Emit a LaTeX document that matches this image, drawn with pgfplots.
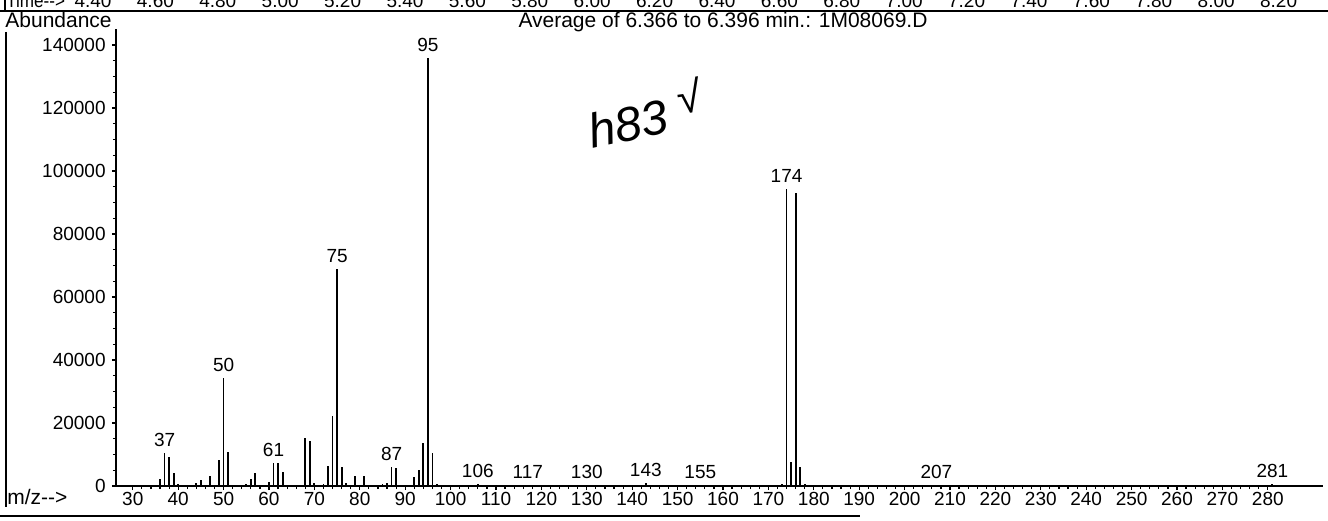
\documentclass[border=0pt]{standalone}
\usepackage{fontspec}
\setmainfont{Liberation Sans}
\usepackage{pgfplots}
\pgfplotsset{compat=1.18}

% scan is 1328x520 px, drawn here at 0.5pt per px
\newcommand{\tickfont}{\fontsize{9.5}{10}\selectfont}
\newcommand{\headfont}{\fontsize{10.5}{11}\selectfont}
\newcommand{\timefont}{\fontsize{9.5}{10}\selectfont}
\tikzset{peak/.style={anchor=south, inner sep=0pt, yshift=3pt, font=\tickfont}}

\begin{document}
\begin{tikzpicture}
	% time row, cut off at the top edge
	\node[anchor=base west, inner sep=0pt, font=\timefont, xscale=0.9] at (3pt,256pt) {Time-{}->};
	\foreach \t [count=\i from 0] in {4.40,4.60,4.80,5.00,5.20,5.40,5.60,5.80,6.00,6.20,6.40,6.60,6.80,7.00,7.20,7.40,7.60,7.80,8.00,8.20}
		\node[anchor=base, inner sep=0pt, font=\timefont] at ({46.5pt+\i*31.2pt},256pt) {\t};
	\draw[line width=1pt] (0pt,254.5pt) -- (664pt,254.5pt);
	\draw[line width=0.9pt] (2.5pt,260pt) -- (2.5pt,255pt);
	\draw[line width=0.9pt] (3pt,244pt) -- (3pt,6.5pt);
	\draw[line width=1pt] (0pt,2pt) -- (430pt,2pt);

	\node[anchor=base west, inner sep=0pt, font=\headfont] at (2.5pt,246pt) {Abundance};
	\node[anchor=base, inner sep=0pt, font=\headfont] at (361.5pt,246pt) {Average of 6.366 to 6.396 min.: 1M08069.D};
	\node[anchor=base west, inner sep=0pt, font=\headfont] at (3.5pt,8pt) {m/z-{}->};

	\begin{axis}[
		at={(58pt,17pt)}, anchor=south west,
		scale only axis,
		width=603.5pt, height=228.35pt,
		xmin=26.3, xmax=292.16,
		ymin=0, ymax=145000,
		axis x line=bottom, axis y line=left,
		axis line style={-, line width=0.9pt},
		tick align=outside,
		major tick length=2pt, minor tick length=1.5pt,
		every tick/.style={black, line width=0.6pt},
		xtick={30,40,...,280},
		minor x tick num=4,
		ytick={0,20000,...,140000},
		minor y tick num=3,
		scaled y ticks=false,
		/pgf/number format/assume math mode=true,
		yticklabel style={/pgf/number format/fixed, /pgf/number format/1000 sep={}, font=\tickfont, inner sep=0pt, xshift=-3pt},
		xticklabel style={font=\tickfont, inner sep=0pt, yshift=-1pt},
		clip=false,
		]
	\addplot[ycomb, black, line width=0.9pt] coordinates {
		(36,2200) (37,10500) (38,9200) (39,4100) (40,500) (42,400) (44,800)
		(45,1900) (47,3200) (49,8200) (50,34300) (51,10700) (55,600)
		(56,2200) (57,4200) (60,1300) (61,7300) (62,7200) (63,4500)
		(68,15200) (69,14400) (70,1000) (72,600) (73,6300) (74,22200)
		(75,68900) (76,6000) (77,900) (79,3100) (81,3100) (85,500)
		(86,800) (87,6000) (88,5600) (92,3000) (93,5200) (94,13500)
		(95,136000) (96,10400) (97,600) (106,500) (117,400) (130,300)
		(143,1000) (155,200) (173,600) (174,94300) (175,7700) (176,93000)
		(177,6100) (178,500) (207,200) (281,500)
	};
	\node[peak] at (axis cs:37,10500) {37};
	\node[peak] at (axis cs:50,34300) {50};
	\node[peak] at (axis cs:61,7300) {61};
	\node[peak] at (axis cs:75,68900) {75};
	\node[peak] at (axis cs:87,6000) {87};
	\node[peak] at (axis cs:95,136000) {95};
	\node[peak] at (axis cs:106,500) {106};
	\node[peak] at (axis cs:117,400) {117};
	\node[peak] at (axis cs:130,300) {130};
	\node[peak] at (axis cs:143,1000) {143};
	\node[peak] at (axis cs:155,200) {155};
	\node[peak] at (axis cs:174,94300) {174};
	\node[peak] at (axis cs:207,200) {207};
	\node[peak] at (axis cs:281,500) {281};
	% handwritten note on the scan
	\node[rotate=12, font=\fontsize{24}{26}\selectfont\itshape] at (axis cs:139,115000) {h83};
	\node[rotate=8, font=\fontsize{22}{24}\selectfont] at (axis cs:152.5,124000) {√};
	\end{axis}

	\pgfresetboundingbox
	\useasboundingbox (0pt,0pt) rectangle (664pt,260pt);
\end{tikzpicture}
\end{document}
